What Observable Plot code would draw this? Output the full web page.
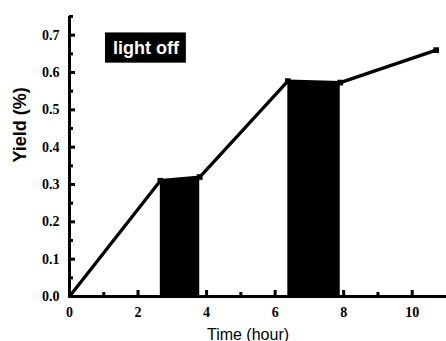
<!DOCTYPE html>
<html>
<head>
<meta charset="utf-8">
<script src="https://cdn.jsdelivr.net/npm/d3@7"></script>
<script src="https://cdn.jsdelivr.net/npm/@observablehq/plot@0.6"></script>
<style>
  html, body { margin: 0; padding: 0; background: #fff; }
</style>
</head>
<body>
<div id="chart"></div>
<script>
// Data
const times  = [0, 2.65, 3.8, 6.37, 7.9, 10.7];
const yields = [0, 0.31, 0.32, 0.577, 0.573, 0.66];
// light-off intervals, as [start index, end index] into the series
const lightOffSegments = [[1, 2], [3, 4]];
const xMajorTicks = [0, 2, 4, 6, 8, 10];
const xMinorTicks = [1, 3, 5, 7, 9];
const yMajorTicks = [0, 0.1, 0.2, 0.3, 0.4, 0.5, 0.6, 0.7];
const yMinorTicks = [0.05, 0.15, 0.25, 0.35, 0.45, 0.55, 0.65, 0.75];
const annotationLabel = ["light off"];
const annotationBox = {x1: 1.05, x2: 3.41, y1: 0.625, y2: 0.706};

const points = times.map((t, i) => ({t, y: yields[i]}));
const areaData = lightOffSegments.flatMap(([a, b], k) =>
  points.slice(a, b + 1).map(p => ({...p, seg: k})));
const markerPoints = points.slice(1);

const W = 446, H = 341, ML = 69, MR = 0, MT = 16, MB = 45;
const frameW = W - ML - MR, frameH = H - MT - MB;

const serif = "'Liberation Serif', 'Times New Roman', serif";
const sans = "'Liberation Sans', Arial, sans-serif";

const chart = Plot.plot({
  width: W,
  height: H,
  marginLeft: ML,
  marginRight: MR,
  marginTop: MT,
  marginBottom: MB,
  style: {fontFamily: serif, background: "#fff", color: "#000"},
  x: {domain: [0, 11]},
  y: {domain: [0, 0.75]},
  marks: [
    Plot.areaY(areaData, {x: "t", y: "y", z: "seg", fill: "#000"}),
    Plot.line(points, {x: "t", y: "y", stroke: "#000", strokeWidth: 3.3}),
    Plot.dot(markerPoints, {x: "t", y: "y", symbol: "square", r: 3.2, fill: "#000"}),
    // inward ticks
    Plot.ruleX(xMajorTicks, {insetTop: frameH - 6, stroke: "#000", strokeWidth: 3}),
    Plot.ruleX(xMinorTicks, {insetTop: frameH - 4, stroke: "#000", strokeWidth: 3}),
    Plot.ruleY(yMajorTicks, {insetRight: frameW - 6, stroke: "#000", strokeWidth: 3}),
    Plot.ruleY(yMinorTicks, {insetRight: frameW - 4, stroke: "#000", strokeWidth: 3}),
    // axes lines
    Plot.ruleY([0], {stroke: "#000", strokeWidth: 3}),
    Plot.ruleX([0], {stroke: "#000", strokeWidth: 3}),
    // tick labels
    Plot.axisX({ticks: xMajorTicks, tickSize: 0, tickPadding: 11, tickFormat: d3.format("d"),
      fontSize: 14, fontWeight: "bold", fontFamily: serif, label: null}),
    Plot.axisY({ticks: yMajorTicks, tickSize: 0, tickPadding: 10, tickFormat: d3.format(".1f"),
      fontSize: 14, fontWeight: "bold", fontFamily: serif, label: null}),
    // axis titles
    Plot.text(["Time (hour)"], {frameAnchor: "bottom", dx: -10, dy: 43, fontFamily: sans,
      fontSize: 16, fill: "#000"}),
    Plot.text(["Yield (%)"], {frameAnchor: "left", dx: -49, dy: 6, rotate: -90, fontFamily: sans,
      fontSize: 18, fontWeight: "bold", fill: "#000"}),
    // annotation
    Plot.rect([annotationBox], {x1: "x1", x2: "x2", y1: "y1", y2: "y2", fill: "#000"}),
    Plot.text(annotationLabel, {x: (annotationBox.x1 + annotationBox.x2) / 2,
      y: (annotationBox.y1 + annotationBox.y2) / 2, fill: "#fff", fontFamily: sans,
      fontSize: 18, fontWeight: "bold"})
  ]
});
document.getElementById("chart").appendChild(chart);
</script>
</body>
</html>
